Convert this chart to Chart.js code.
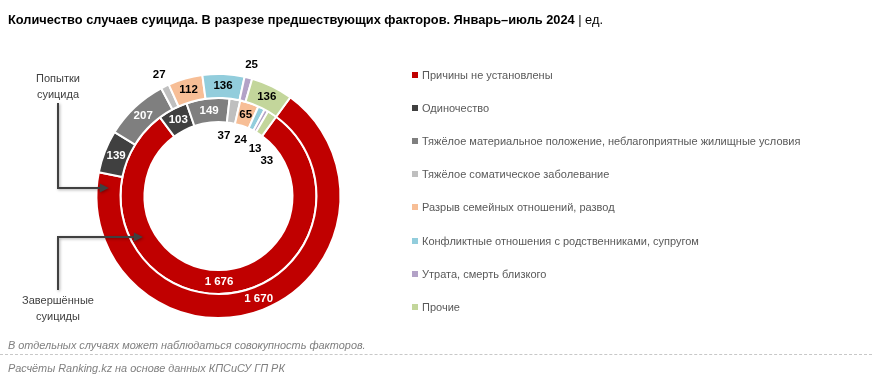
<!DOCTYPE html>
<html><head><meta charset="utf-8">
<script src="https://cdn.jsdelivr.net/npm/chart.js@4.4.1/dist/chart.umd.min.js"></script>
<style>
html,body{margin:0;padding:0;background:#fff;}
body{width:872px;height:382px;position:relative;overflow:hidden;font-family:"Liberation Sans",Arial,sans-serif;}
#c{position:absolute;left:0;top:0;}
#title{position:absolute;left:8px;top:12px;font-size:12.8px;line-height:16px;font-weight:bold;color:#000;white-space:nowrap;}
#title span{font-weight:normal;}
.legend-item{position:absolute;left:412px;font-size:11px;line-height:14px;color:#595959;white-space:nowrap;}
.legend-item i{display:inline-block;width:6px;height:6px;margin-right:4px;vertical-align:1px;}
.ann{position:absolute;left:8px;width:100px;font-size:11px;color:#404040;text-align:center;line-height:16px;}
.note{position:absolute;left:8px;font-size:10.9px;line-height:14px;font-style:italic;color:#7f7f7f;white-space:nowrap;}
#dash{position:absolute;left:0;top:354px;width:872px;border-top:1px dashed #c8c8c8;}
</style></head>
<body>
<canvas id="c" width="872" height="382"></canvas>
<div id="title">Количество случаев суицида. В разрезе предшествующих факторов. Январь–июль 2024 <span>| ед.</span></div>
<div id="legend"></div>
<div class="ann" style="top:70px">Попытки<br>суицида</div>
<div class="ann" style="top:292px">Завершённые<br>суициды</div>
<div class="note" style="top:338px">В отдельных случаях может наблюдаться совокупность факторов.</div>
<div id="dash"></div>
<div class="note" style="top:361px">Расчёты Ranking.kz на основе данных КПСиСУ ГП РК</div>
<script>
// ---- data ----
const categories = [
  "Причины не установлены",
  "Одиночество",
  "Тяжёлое материальное положение, неблагоприятные жилищные условия",
  "Тяжёлое соматическое заболевание",
  "Разрыв семейных отношений, развод",
  "Конфликтные отношения с родственниками, супругом",
  "Утрата, смерть близкого",
  "Прочие"
];
const attempts  = [1670, 139, 207, 27, 112, 136, 25, 136];   // outer ring
const completed = [1676, 103, 149, 37, 65, 24, 13, 33];      // inner ring
const seriesNames = ["Попытки суицида", "Завершённые суициды"];

// ---- styles ----
const colors = ["#C00000","#404040","#7F7F7F","#BFBFBF","#F7BE96","#92CDDC","#B3A2C7","#C3D69B"];
const whiteText = [true,true,true,false,false,false,false,false];

// legend (HTML)
const leg = document.getElementById('legend');
categories.forEach((c,i)=>{
  const d = document.createElement('div');
  d.className='legend-item';
  d.style.top = (68 + i*33.1) + 'px';
  d.innerHTML = '<i style="background:'+colors[i]+'"></i>' + c;
  leg.appendChild(d);
});

const fmt = v => String(v).replace(/\B(?=(\d{3})+(?!\d))/g,' ');
const DEG = Math.PI/180;

const labelPlugin = {
  id:'labels',
  afterDatasetsDraw(chart){
    const ctx = chart.ctx;
    ctx.save();
    ctx.font = 'bold 11.5px "Liberation Sans",Arial,sans-serif';
    ctx.textAlign='center'; ctx.textBaseline='middle';
    chart.data.datasets.forEach((ds,di)=>{
      const meta = chart.getDatasetMeta(di);
      let prev = -Infinity;
      meta.data.forEach((arc,i)=>{
        const p = arc.getProps(['x','y','startAngle','endAngle','innerRadius','outerRadius'], true);
        const span = p.endAngle - p.startAngle;
        const mid = (p.startAngle + p.endAngle)/2;
        let r, a, col;
        if (span > 8*DEG) {
          r = (p.innerRadius + p.outerRadius)/2; a = mid;
          col = whiteText[i] ? '#fff' : '#000';
        } else {
          col = '#000';
          if (di === 0) { r = p.outerRadius + 13; a = mid; }
          else { r = p.innerRadius - 14; a = Math.max(mid - 4.5*DEG, prev + 16*DEG); prev = a; }
        }
        ctx.fillStyle = col;
        ctx.fillText(fmt(ds.data[i]), p.x + r*Math.cos(a), p.y + r*Math.sin(a));
      });
    });
    ctx.restore();
  }
};

// annotation arrows: start points near the labels, tips on the middle of each ring
const arrowPlugin = {
  id:'arrows',
  afterDatasetsDraw(chart){
    const ctx = chart.ctx;
    const specs = [
      {di:0, x0:58, y0:103, dy:-8},
      {di:1, x0:58, y0:290, dy:41}
    ];
    ctx.save();
    specs.forEach(s=>{
      const arc = chart.getDatasetMeta(s.di).data[0];
      const p = arc.getProps(['x','y','innerRadius','outerRadius'], true);
      const rm = (p.innerRadius + p.outerRadius)/2;
      const ty = p.y + s.dy;
      const tx = p.x - Math.sqrt(rm*rm - s.dy*s.dy);
      ctx.shadowColor='rgba(0,0,0,0.35)'; ctx.shadowBlur=3; ctx.shadowOffsetX=1; ctx.shadowOffsetY=1;
      ctx.strokeStyle='#404040'; ctx.fillStyle='#404040'; ctx.lineWidth=2;
      ctx.beginPath();
      ctx.moveTo(s.x0, s.y0); ctx.lineTo(s.x0, ty); ctx.lineTo(tx-7, ty);
      ctx.stroke();
      ctx.beginPath();
      ctx.moveTo(tx, ty); ctx.lineTo(tx-9, ty-4.5); ctx.lineTo(tx-9, ty+4.5); ctx.closePath();
      ctx.fill();
    });
    ctx.restore();
  }
};

new Chart(document.getElementById('c'), {
  type:'doughnut',
  data:{
    labels: categories,
    datasets:[
      {label: seriesNames[0], data: attempts,  backgroundColor: colors, borderColor:'#fff', borderWidth:2},
      {label: seriesNames[1], data: completed, backgroundColor: colors, borderColor:'#fff', borderWidth:2}
    ]
  },
  options:{
    responsive:false, animation:false,
    rotation:36, cutout:'60.66%', radius:122,
    layout:{padding:{left:68,right:503,top:46,bottom:36}},
    plugins:{legend:{display:false}, tooltip:{enabled:false}}
  },
  plugins:[labelPlugin, arrowPlugin]
});
</script>
</body></html>
